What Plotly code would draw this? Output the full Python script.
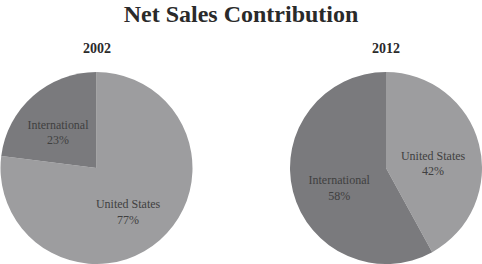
import plotly.graph_objects as go

labels = ["United States", "International"]
years = ["2002", "2012"]
values_2002 = [77, 23]
values_2012 = [42, 58]
colors = ["#9d9d9f", "#7a7a7d"]

W, H = 482, 264
font = "Liberation Serif"

fig = go.Figure()
doms = [dict(x=[0.0, 193 / W], y=[0.0, 192 / H]),
        dict(x=[290 / W, 482 / W], y=[0.0, 192 / H])]
for vals, dom in zip([values_2002, values_2012], doms):
    fig.add_trace(go.Pie(
        labels=labels, values=vals, sort=False, direction="clockwise",
        rotation=0, domain=dom, marker=dict(colors=colors, line=dict(width=0)),
        textinfo="label+percent", textposition="inside",
        insidetextorientation="horizontal",
        texttemplate=" <br>%{label}<br>%{percent:.0%}",
        textfont=dict(family=font, size=12, color="#404040"),
        showlegend=False, hoverinfo="label+percent"))

fig.update_layout(
    width=W, height=H, margin=dict(l=0, r=0, t=0, b=0),
    paper_bgcolor="white", plot_bgcolor="white",
    title=dict(text="<b>Net Sales Contribution</b>", x=0.5, xanchor="center",
               y=1 - 14 / H, yanchor="middle",
               font=dict(family=font, size=24, color="#2a2a2a")),
    annotations=[
        dict(text="<b>" + years[0] + "</b>", x=96.5 / W, y=1 - 48 / H, xref="paper", yref="paper",
             xanchor="center", yanchor="middle",
             showarrow=False, font=dict(family=font, size=14, color="#2a2a2a")),
        dict(text="<b>" + years[1] + "</b>", x=386 / W, y=1 - 48 / H, xref="paper", yref="paper",
             xanchor="center", yanchor="middle",
             showarrow=False, font=dict(family=font, size=14, color="#2a2a2a")),
    ],
)
fig.write_html("out.html")
